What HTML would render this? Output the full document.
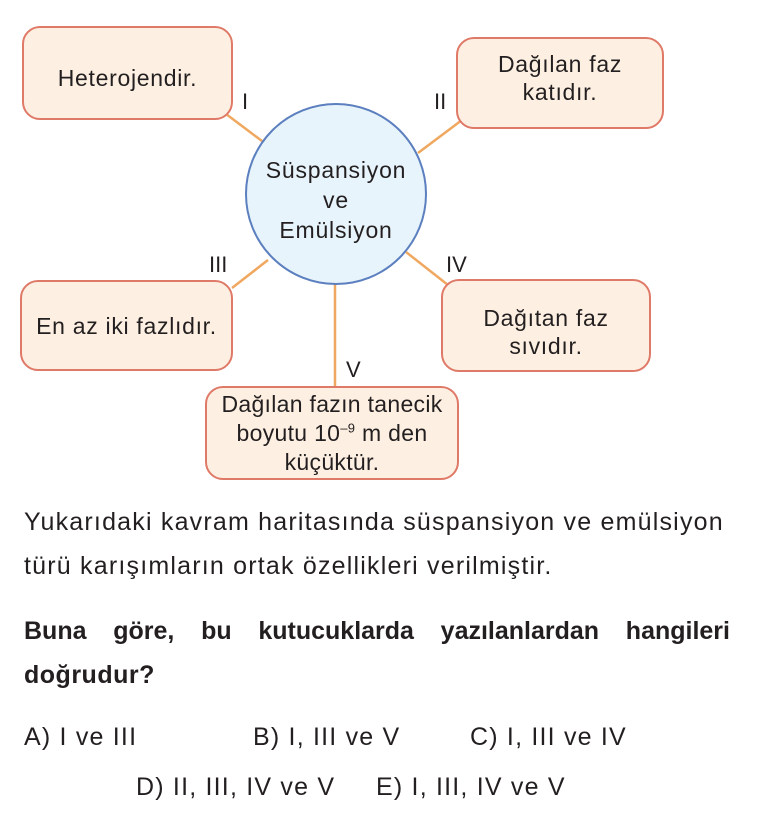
<!DOCTYPE html>
<html><head><meta charset="utf-8"><style>
body{margin:0;width:762px;height:824px;background:#fff;font-family:"Liberation Sans",Arial,sans-serif;color:#231f20;position:relative;overflow:hidden}
.b{position:absolute;background:#fdf0e2;border:2px solid #e07a68;border-radius:18px;box-sizing:border-box;display:flex;align-items:center;justify-content:center;text-align:center;font-size:23px;letter-spacing:0.7px;line-height:28px}
.t{position:absolute;font-size:25px;letter-spacing:1.2px;white-space:nowrap}
.l{position:absolute;font-size:22px}
</style></head><body>
<svg width="762" height="500" style="position:absolute;left:0;top:0">
<g stroke="#f0a860" stroke-width="2.5">
<line x1="226" y1="114" x2="262" y2="141"/>
<line x1="462" y1="120" x2="418" y2="153"/>
<line x1="232" y1="288" x2="268" y2="260"/>
<line x1="406" y1="252" x2="448" y2="285"/>
<line x1="335" y1="283" x2="335" y2="387"/>
</g>
<circle cx="336" cy="194" r="90" fill="#e8f4fb" stroke="#5b7fbf" stroke-width="2"/>
</svg>
<div class="b" style="left:22px;top:26px;width:211px;height:94px;padding-top:10px"><div>Heterojendir.</div></div>
<div class="b" style="left:456px;top:37px;width:208px;height:92px;padding-bottom:10px"><div>Dağılan faz<br>katıdır.</div></div>
<div class="b" style="left:20px;top:280px;width:213px;height:91px"><div>En az iki fazlıdır.</div></div>
<div class="b" style="left:441px;top:279px;width:210px;height:93px;padding-top:12px"><div>Dağıtan faz<br>sıvıdır.</div></div>
<div class="b" style="left:205px;top:386px;width:254px;height:94px;line-height:29px;letter-spacing:0.3px"><div style="white-space:nowrap">Dağılan fazın tanecik<br>boyutu 10<sup style="font-size:13px;line-height:0">–9</sup> m den<br>küçüktür.</div></div>
<div style="position:absolute;left:236px;top:155px;width:200px;text-align:center;font-size:23px;letter-spacing:0.8px;line-height:30px">Süspansiyon<br>ve<br>Emülsiyon</div>
<div class="l" style="left:242px;top:89px">I</div>
<div class="l" style="left:434px;top:89px">II</div>
<div class="l" style="left:209px;top:252px">III</div>
<div class="l" style="left:446px;top:252px">IV</div>
<div class="l" style="left:346px;top:357px">V</div>
<div class="t" style="left:24px;top:508px">Yukarıdaki kavram haritasında süspansiyon ve emülsiyon</div>
<div class="t" style="left:24px;top:552px">türü karışımların ortak özellikleri verilmiştir.</div>
<div class="t" style="left:24px;top:617px;font-weight:bold;letter-spacing:0;width:706px;text-align:justify;text-align-last:justify">Buna göre, bu kutucuklarda yazılanlardan hangileri</div>
<div class="t" style="left:24px;top:661px;font-weight:bold;letter-spacing:0.5px">doğrudur?</div>
<div class="t" style="left:24px;top:723px">A) I ve III</div>
<div class="t" style="left:253px;top:723px">B) I, III ve V</div>
<div class="t" style="left:470px;top:723px">C) I, III ve IV</div>
<div class="t" style="left:136px;top:773px">D) II, III, IV ve V</div>
<div class="t" style="left:376px;top:773px">E) I, III, IV ve V</div>
</body></html>
